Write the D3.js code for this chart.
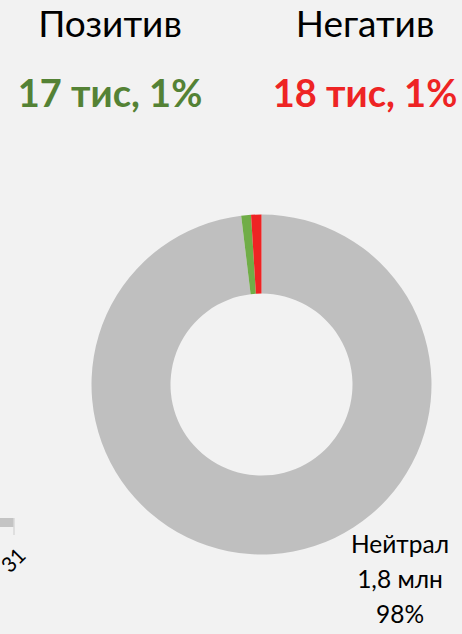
<!DOCTYPE html>
<html>
<head>
<meta charset="utf-8">
<script src="https://cdn.jsdelivr.net/npm/d3@7"></script>
<style>
  body { margin: 0; background: #f2f2f2; }
  svg { display: block; font-family: Lato, "Open Sans", sans-serif; }
</style>
</head>
<body>
<script>
let width = 462
let height = 634

// sentiment slices, clockwise from 12 o'clock
let categories = ["Нейтрал", "Позитив", "Негатив"]
let values = [1800000, 17000, 18000]
let valueLabels = ["1,8 млн", "17 тис", "18 тис"]
let percentLabels = ["98%", "1%", "1%"]

let sliceColors = ["#bfbfbf", "#70ad47", "#ee2424"]
let textColors = ["#000000", "#548235", "#ee2424"]

let cx = 261.5, cy = 384.5
let outerR = 170
let innerR = 91

let svg = d3.select("body").append("svg")
    .attr("width", width)
    .attr("height", height)

// cut-off piece of the neighbouring chart at the left edge
svg.append("rect")
    .attr("x", 0).attr("y", 518)
    .attr("width", 14).attr("height", 9)
    .attr("fill", "#c4c4c4")
svg.append("line")
    .attr("x1", 14).attr("y1", 518)
    .attr("x2", 14).attr("y2", 535)
    .attr("stroke", "#d9d9d9")
    .attr("stroke-width", 1.5)
svg.append("text")
    .attr("transform", "translate(10,574) rotate(-45)")
    .attr("font-size", 21)
    .attr("fill", "#000")
    .text("31")

let pie = d3.pie().sort(null).value(d => d)
let arc = d3.arc().innerRadius(innerR).outerRadius(outerR)

let g = svg.append("g").attr("transform", `translate(${cx},${cy})`)
g.selectAll("path")
    .data(pie(values))
    .enter()
    .append("path")
    .attr("d", arc)
    .attr("fill", (d, i) => sliceColors[i])

// headers for positive / negative
let headers = [
    {i: 1, x: 110},
    {i: 2, x: 365}
]
svg.selectAll("text.head")
    .data(headers)
    .enter()
    .append("text")
    .attr("class", "head")
    .attr("x", d => d.x)
    .attr("y", 37)
    .attr("text-anchor", "middle")
    .attr("font-size", 37)
    .attr("fill", "#000")
    .text(d => categories[d.i])

svg.selectAll("text.val")
    .data(headers)
    .enter()
    .append("text")
    .attr("class", "val")
    .attr("x", d => d.x)
    .attr("y", 107)
    .attr("text-anchor", "middle")
    .attr("font-size", 38)
    .attr("font-weight", "bold")
    .attr("fill", d => textColors[d.i])
    .text(d => valueLabels[d.i] + ", " + percentLabels[d.i])

// neutral label
let neutral = [categories[0], valueLabels[0], percentLabels[0]]
svg.selectAll("text.neutral")
    .data(neutral)
    .enter()
    .append("text")
    .attr("class", "neutral")
    .attr("x", 400)
    .attr("y", (d, i) => 553 + i * 35)
    .attr("text-anchor", "middle")
    .attr("font-size", 24.5)
    .attr("fill", "#000")
    .text(d => d)
</script>
</body>
</html>
